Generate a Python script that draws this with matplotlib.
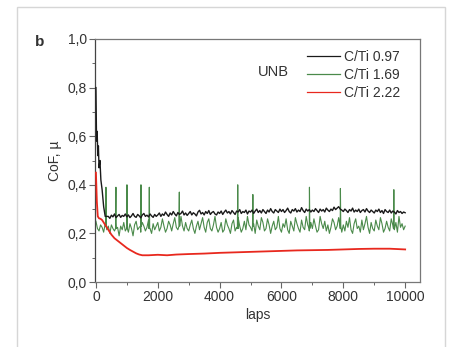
import numpy as np
import matplotlib
matplotlib.use("Agg")
import matplotlib.pyplot as plt
from matplotlib.patches import Rectangle
from matplotlib.ticker import MultipleLocator, FuncFormatter

plt.rcParams["font.family"] = ["Liberation Sans", "DejaVu Sans"]

# C/Ti 0.97 (black): run-in drop, then every 50 laps
black_x = [0, 20, 40, 60, 80, 100, 130, 160, 200, 250, 300] + list(range(400, 10001, 50))
black_y = [0.80, 0.58, 0.62, 0.52, 0.56, 0.47, 0.50, 0.42, 0.38, 0.31, 0.27,
           0.27, 0.262, 0.275, 0.268, 0.28, 0.265, 0.272, 0.278, 0.266, 0.274, 0.27, 0.28,
           0.268, 0.276, 0.265, 0.272, 0.282, 0.27, 0.266, 0.278, 0.272, 0.264,
           0.276, 0.282, 0.27, 0.275, 0.268, 0.28, 0.272, 0.266, 0.278, 0.27,
           0.276, 0.284, 0.27, 0.28, 0.274, 0.288, 0.278, 0.27, 0.284, 0.276,
           0.29, 0.28, 0.272, 0.286, 0.278, 0.282, 0.292, 0.276, 0.284, 0.274,
           0.282, 0.29, 0.276, 0.285, 0.28, 0.272, 0.288, 0.295, 0.28, 0.286,
           0.276, 0.29, 0.282, 0.294, 0.278, 0.286, 0.29, 0.28, 0.276, 0.288,
           0.282, 0.292, 0.278, 0.288, 0.296, 0.284, 0.29, 0.28, 0.294, 0.286,
           0.278, 0.292, 0.288, 0.298, 0.282, 0.29, 0.286, 0.296, 0.28, 0.292,
           0.288, 0.296, 0.282, 0.292, 0.30, 0.286, 0.294, 0.284, 0.298, 0.29,
           0.282, 0.296, 0.288, 0.302, 0.29, 0.284, 0.298, 0.292, 0.286, 0.30,
           0.29, 0.298, 0.286, 0.294, 0.304, 0.29, 0.284, 0.298, 0.292, 0.302,
           0.288, 0.296, 0.29, 0.306, 0.294, 0.286, 0.30, 0.292, 0.298, 0.288,
           0.296, 0.29, 0.302, 0.294, 0.286, 0.30, 0.292, 0.298, 0.288, 0.304,
           0.296, 0.29, 0.30, 0.294, 0.308, 0.298, 0.304, 0.31, 0.30, 0.296,
           0.29, 0.30, 0.294, 0.286, 0.298, 0.292, 0.304, 0.288, 0.296, 0.29,
           0.30, 0.286, 0.294, 0.298, 0.288, 0.302, 0.292, 0.286, 0.296, 0.29,
           0.284, 0.296, 0.29, 0.30, 0.286, 0.294, 0.282, 0.298, 0.29, 0.286,
           0.296, 0.284, 0.292, 0.288, 0.28, 0.294, 0.286, 0.29, 0.282, 0.288, 0.285]

# C/Ti 1.69 (green): trace every 50 laps
green_x = list(range(0, 10001, 50))
green_y = [0.25, 0.22, 0.21, 0.235, 0.225, 0.205, 0.24, 0.215, 0.23, 0.20,
           0.235, 0.22, 0.21, 0.245, 0.225, 0.19, 0.23, 0.215, 0.245, 0.21,
           0.225, 0.205, 0.24, 0.22, 0.19, 0.235, 0.25, 0.215, 0.225, 0.205,
           0.245, 0.23, 0.21, 0.225, 0.255, 0.22, 0.20, 0.24, 0.215, 0.23,
           0.245, 0.21, 0.225, 0.26, 0.23, 0.205, 0.22, 0.25, 0.235, 0.21,
           0.24, 0.265, 0.225, 0.215, 0.25, 0.27, 0.23, 0.21, 0.245, 0.22,
           0.21, 0.235, 0.255, 0.22, 0.20, 0.23, 0.25, 0.215, 0.24, 0.265,
           0.225, 0.205, 0.245, 0.26, 0.22, 0.21, 0.235, 0.27, 0.225, 0.205,
           0.22, 0.245, 0.205, 0.215, 0.26, 0.235, 0.22, 0.20, 0.24, 0.255,
           0.21, 0.225, 0.265, 0.23, 0.205, 0.22, 0.25, 0.215, 0.27, 0.235,
           0.225, 0.21, 0.24, 0.20, 0.255, 0.23, 0.215, 0.265, 0.245, 0.21,
           0.22, 0.26, 0.235, 0.20, 0.23, 0.25, 0.215, 0.225, 0.27, 0.22,
           0.205, 0.24, 0.225, 0.26, 0.215, 0.20, 0.25, 0.23, 0.21, 0.265,
           0.24, 0.22, 0.205, 0.255, 0.225, 0.215, 0.27, 0.235, 0.21, 0.245,
           0.22, 0.26, 0.23, 0.205, 0.215, 0.27, 0.24, 0.22, 0.25, 0.21,
           0.235, 0.20, 0.225, 0.26, 0.245, 0.215, 0.23, 0.265, 0.22, 0.205,
           0.235, 0.21, 0.25, 0.225, 0.265, 0.215, 0.20, 0.24, 0.26, 0.22,
           0.23, 0.205, 0.255, 0.215, 0.24, 0.27, 0.225, 0.20, 0.245, 0.22,
           0.21, 0.255, 0.23, 0.215, 0.265, 0.24, 0.205, 0.22, 0.25, 0.225,
           0.21, 0.26, 0.235, 0.215, 0.245, 0.205, 0.27, 0.225, 0.24, 0.215,
           0.23]
# narrow spikes in the green trace (foot, peak, foot)
spike_x = [312, 324, 336, 635, 647, 659, 991, 1003, 1015, 1444, 1456, 1468, 1714, 1726, 1738,
           2685, 2697, 2709, 4574, 4586, 4598, 5063, 5075, 5087, 6893, 6905, 6917, 7894, 7906, 7918,
           9622, 9634, 9646]
spike_y = [0.23, 0.39, 0.23, 0.22, 0.39, 0.22, 0.22, 0.40, 0.22, 0.23, 0.40, 0.23, 0.22, 0.39, 0.22,
           0.23, 0.37, 0.23, 0.22, 0.40, 0.22, 0.23, 0.36, 0.23, 0.22, 0.39, 0.22, 0.23, 0.385, 0.23,
           0.22, 0.38, 0.22]

# C/Ti 2.22 (red)
red_x = [0, 30, 60, 100, 150, 200, 250, 300, 400, 500, 600, 700, 800, 900, 1000, 1100, 1200, 1300, 1400,
         1500, 1700, 2000, 2300, 2600, 3000, 3500, 4000, 4500, 5000, 5500, 6000, 6500, 7000, 7500, 8000,
         8500, 9000, 9500, 10000]
red_y = [0.45, 0.33, 0.27, 0.262, 0.26, 0.255, 0.245, 0.235, 0.215, 0.195, 0.18, 0.17, 0.16, 0.15, 0.14,
         0.132, 0.125, 0.118, 0.113, 0.11, 0.11, 0.112, 0.11, 0.113, 0.115, 0.117, 0.12, 0.122, 0.124, 0.126,
         0.128, 0.13, 0.131, 0.132, 0.134, 0.136, 0.137, 0.137, 0.134]

labels = ["C/Ti 0.97", "C/Ti 1.69", "C/Ti 2.22"]
TXT = "#333333"

gx = np.array(green_x + spike_x, dtype=float)
gy = np.array(green_y + spike_y, dtype=float)
order = np.argsort(gx, kind="stable")
gx, gy = gx[order], gy[order]

fig = plt.figure(figsize=(4.52, 3.47), dpi=100)
fig.patches.append(Rectangle((17 / 452, -0.05), (445 - 17) / 452, 1.0 - 7 / 347 + 0.05,
                             transform=fig.transFigure, fill=False, ec="#d6d6d6", lw=1.0))
ax = fig.add_axes([95 / 452, 1 - 282 / 347, (420 - 95) / 452, (282 - 39) / 347])

ax.plot(gx, gy, color="#4a8a4a", lw=0.8, label=labels[1], zorder=2)
ax.plot(black_x, black_y, color="#1a1a1a", lw=1.0, label=labels[0], zorder=3)
ax.plot(red_x, red_y, color="#e8281e", lw=1.3, label=labels[2], zorder=4)

ax.set_xlim(-30, 10480)
ax.set_ylim(0, 1.0)
ax.xaxis.set_major_locator(MultipleLocator(2000))
ax.xaxis.set_minor_locator(MultipleLocator(1000))
ax.yaxis.set_major_locator(MultipleLocator(0.2))
ax.yaxis.set_minor_locator(MultipleLocator(0.1))
ax.yaxis.set_major_formatter(FuncFormatter(lambda v, p: f"{v:.1f}".replace(".", ",")))
ax.tick_params(which="major", direction="out", length=4, width=0.8, color="#666666",
               labelsize=10, labelcolor=TXT, pad=2)
ax.tick_params(which="minor", direction="out", length=2, width=0.7, color="#666666")
for s in ax.spines.values():
    s.set_color("#777777")
    s.set_linewidth(0.9)
ax.spines["left"].set_color("#444444")

ax.set_xlabel("laps", fontsize=10, color=TXT, labelpad=3)
ax.set_ylabel("CoF, µ", fontsize=10, color=TXT, labelpad=4)

h, l = ax.get_legend_handles_labels()
idx = [l.index(t) for t in labels]
leg = ax.legend([h[i] for i in idx], labels, loc="upper right", bbox_to_anchor=(0.965, 0.99),
                frameon=False, fontsize=10, handlelength=2.4, handletextpad=0.3, labelspacing=0.28,
                borderaxespad=0.2)
for t in leg.get_texts():
    t.set_color(TXT)
for ln in leg.get_lines():
    ln.set_linewidth(0.9)

ax.text(5730, 0.864, "UNB", fontsize=10.5, color=TXT, ha="center", va="center")
fig.text(40 / 452, 1 - 42 / 347, "b", fontsize=11, color=TXT, ha="center", va="center", fontweight="bold")

fig.savefig("out.png", dpi=100, facecolor="white")
